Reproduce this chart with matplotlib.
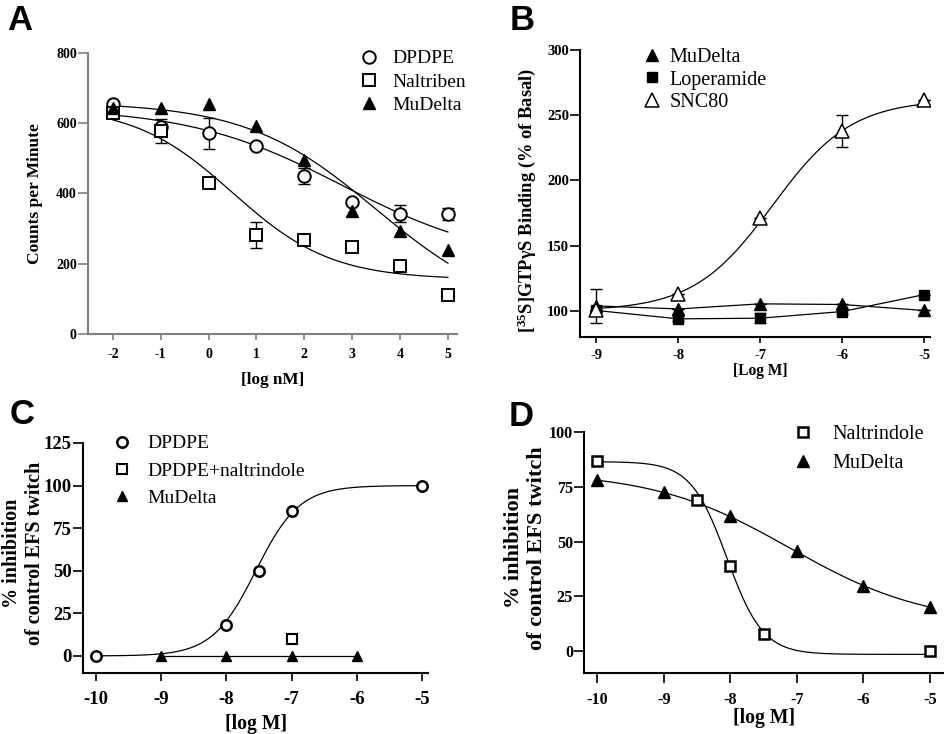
import numpy as np
import matplotlib
matplotlib.use('Agg')
import matplotlib.pyplot as plt

plt.rcParams['font.family'] = 'Liberation Serif'
plt.rcParams['font.weight'] = 'bold'
plt.rcParams['axes.labelweight'] = 'bold'
plt.rcParams['axes.unicode_minus'] = False
plt.rcParams['mathtext.fontset'] = 'custom'
plt.rcParams['mathtext.rm'] = 'Liberation Serif:bold'
plt.rcParams['mathtext.default'] = 'rm'

# ---- panel A : counts per minute vs [log nM]
a_x = [-2, -1, 0, 1, 2, 3, 4, 5]
a_dpdpe = [656, 590, 571, 536, 450, 375, 342, 342]
a_dpdpe_err = [0, 0, 43, 0, 23, 0, 24, 17]
a_naltriben = [630, 578, 431, 282, 268, 249, 194, 112]
a_naltriben_err = [0, 35, 0, 37, 0, 0, 10, 12]
a_mudelta = [642, 642, 654, 592, 495, 351, 293, 240]
# fitted curves (bottom, top, logEC50, hill)
a_fit_dpdpe = (200, 645, 2.8, -0.27)
a_fit_naltriben = (155, 650, 0.5, -0.42)
a_fit_mudelta = (50, 660, 3.5, -0.32)

# ---- panel B : [35S]GTPgS binding
b_x = [-9, -8, -7, -6, -5]
b_mudelta = [103.8, 101.5, 105.4, 104.9, 100.3]
b_mudelta_err = [13, 0, 0, 0, 0]
b_loperamide = [100.3, 93.9, 94.4, 99.5, 112.5]
b_loperamide_err = [0, 2, 4, 2, 0]
b_snc80 = [100.3, 113, 171.4, 238, 262]
b_snc80_err = [0, 0, 0, 12, 0]
b_fit_snc80 = (100, 262, -6.85, 0.9)

# ---- panel C : % inhibition, agonists
c_dpdpe_x = [-10, -8, -7.5, -7, -5]
c_dpdpe = [0, 18, 50, 85, 100]
c_naltr_x = [-7]
c_naltr = [10]
c_mudelta_x = [-9, -8, -7, -6]
c_mudelta = [0, 0, 0, 0]
c_fit_dpdpe = (0, 100, -7.55, 1.3)

# ---- panel D : % inhibition, antagonists
d_naltr_x = [-10, -8.5, -8, -7.5, -5]
d_naltr = [87, 69, 39, 8, 0]
d_mudelta_x = [-10, -9, -8, -7, -6, -5]
d_mudelta = [78, 72.5, 61.5, 45.5, 29.5, 20]
d_fit_naltr = (-1.5, 86.5, -8.05, -1.6)
d_fit_mudelta = (12, 82, -7.1, -0.42)


def hill(x, p):
    bottom, top, mid, slope = p
    return bottom + (top - bottom) / (1 + 10 ** ((mid - x) * slope))


def style(ax, color, tsize, xpad, xlen):
    for s in ['top', 'right']:
        ax.spines[s].set_visible(False)
    for s in ['left', 'bottom']:
        ax.spines[s].set_color(color)
        ax.spines[s].set_linewidth(1.5)
    ax.tick_params(axis='both', colors=color, labelcolor='black', width=1.2,
                   labelsize=tsize)
    ax.tick_params(axis='y', length=7, pad=1)
    ax.tick_params(axis='x', length=xlen, pad=xpad)


def legend(ax, fig, x, y, size, pad, spacing):
    ax.legend(loc='center left', bbox_to_anchor=(x / 945, 1 - y / 734),
              bbox_transform=fig.transFigure, frameon=False, borderpad=0,
              borderaxespad=0, handlelength=1.0, handletextpad=pad,
              labelspacing=spacing,
              prop={'family': 'Liberation Serif', 'size': size, 'weight': 'normal'})


fig = plt.figure(figsize=(9.45, 7.34), dpi=100)
axA = fig.add_axes([0.0931, 0.5450, 0.3905, 0.3828])
axB = fig.add_axes([0.6138, 0.5409, 0.3704, 0.3910])
axC = fig.add_axes([0.0878, 0.0831, 0.3651, 0.3134])
axD = fig.add_axes([0.6180, 0.0831, 0.3799, 0.3283])

lw = 0.9

# A
xx = np.linspace(-2, 5, 200)
for p in [a_fit_dpdpe, a_fit_naltriben, a_fit_mudelta]:
    axA.plot(xx, hill(xx, p), color='black', lw=lw)
axA.errorbar(a_x, a_dpdpe, yerr=a_dpdpe_err, fmt='none', ecolor='black', elinewidth=1, capsize=4.5)
axA.errorbar(a_x, a_naltriben, yerr=a_naltriben_err, fmt='none', ecolor='black', elinewidth=1, capsize=4.5)
axA.plot(a_x, a_dpdpe, 'o', ms=9, mfc='white', mec='black', mew=1.4, label='DPDPE')
axA.plot(a_x, a_naltriben, 's', ms=9, mfc='white', mec='black', mew=1.4, label='Naltriben')
axA.plot(a_x, a_mudelta, '^', ms=8.5, color='black', label='MuDelta')
axA.set_xlim(-2.52, 5.19)
axA.set_ylim(0, 800)
axA.set_xticks(a_x)
axA.set_yticks([0, 200, 400, 600, 800])
style(axA, '#808080', 10, 6, 4)
axA.set_ylabel('Counts per Minute', fontsize=12.5, ha='center', va='center')
axA.yaxis.set_label_coords(-0.1436, 0.5)
axA.set_xlabel('[log nM]', fontsize=12.3, ha='center', va='center')
axA.xaxis.set_label_coords(0.5, -0.164)
legend(axA, fig, 359, 82, 14, 0.74, 0.3)

# B
xx = np.linspace(-9, -5, 200)
axB.plot(xx, hill(xx, b_fit_snc80), color='black', lw=lw)
axB.plot(b_x, b_mudelta, color='black', lw=lw)
axB.plot(b_x, b_loperamide, color='black', lw=lw)
axB.errorbar(b_x, b_mudelta, yerr=b_mudelta_err, fmt='none', ecolor='black', elinewidth=1, capsize=4.5)
axB.errorbar(b_x, b_loperamide, yerr=b_loperamide_err, fmt='none', ecolor='black', elinewidth=1, capsize=4.5)
axB.errorbar(b_x, b_snc80, yerr=b_snc80_err, fmt='none', ecolor='black', elinewidth=1, capsize=4.5)
axB.plot(b_x, b_mudelta, '^', ms=8, color='black', label='MuDelta')
axB.plot(b_x, b_loperamide, 's', ms=6.5, color='black', label='Loperamide')
axB.plot(b_x, b_snc80, '^', ms=9.5, mfc='white', mec='black', mew=1.1, label='SNC80')
axB.set_xlim(-9.2, -4.93)
axB.set_ylim(80, 300)
axB.set_xticks(b_x)
axB.set_yticks([100, 150, 200, 250, 300])
style(axB, 'black', 10.5, 5, 4)
axB.set_ylabel('[$^{35}$S]GTPγS Binding (% of Basal)', fontsize=13.3, ha='center', va='center')
axB.yaxis.set_label_coords(-0.151, 0.477)
axB.set_xlabel('[Log M]', fontsize=11.2, ha='center', va='center')
axB.xaxis.set_label_coords(0.514, -0.118)
legend(axB, fig, 642, 80, 14.5, 0.35, 0.15)

# C
xx = np.linspace(-10, -5, 200)
axC.plot(xx, hill(xx, c_fit_dpdpe), color='black', lw=lw)
axC.plot(c_mudelta_x, c_mudelta, color='black', lw=lw)
axC.plot(c_dpdpe_x, c_dpdpe, 'o', ms=7.5, mfc='white', mec='black', mew=1.8, label='DPDPE')
axC.plot(c_naltr_x, c_naltr, 's', ms=7, mfc='white', mec='black', mew=1.5, label='DPDPE+naltrindole')
axC.plot(c_mudelta_x, c_mudelta, '^', ms=7.5, color='black', label='MuDelta')
axC.set_xlim(-10.2, -4.91)
axC.set_ylim(-10, 125)
axC.set_xticks([-10, -9, -8, -7, -6, -5])
axC.set_yticks([0, 25, 50, 75, 100, 125])
style(axC, 'black', 13.5, 7, 6)
axC.set_ylabel('% inhibition\nof control EFS twitch', fontsize=14.5, ha='center', va='center')
axC.yaxis.set_label_coords(-0.172, 0.522)
axC.set_xlabel('[log M]', fontsize=14.2, ha='center', va='center')
axC.xaxis.set_label_coords(0.501, -0.222)
legend(axC, fig, 112, 471, 14, 0.84, 0.5)

# D
xx = np.linspace(-10, -5, 200)
axD.plot(xx, hill(xx, d_fit_naltr), color='black', lw=lw)
axD.plot(xx, hill(xx, d_fit_mudelta), color='black', lw=lw)
axD.plot(d_naltr_x, d_naltr, 's', ms=7.5, mfc='white', mec='black', mew=1.8, label='Naltrindole')
axD.plot(d_mudelta_x, d_mudelta, '^', ms=8.5, color='black', label='MuDelta')
axD.set_xlim(-10.2, -4.8)
axD.set_ylim(-10, 100)
axD.set_xticks([-10, -9, -8, -7, -6, -5])
axD.set_yticks([0, 25, 50, 75, 100])
style(axD, 'black', 11.6, 7, 7)
axD.set_ylabel('% inhibition\nof control EFS twitch', fontsize=16, ha='center', va='center')
axD.yaxis.set_label_coords(-0.164, 0.519)
axD.set_xlabel('[log M]', fontsize=14.2, ha='center', va='center')
axD.xaxis.set_label_coords(0.501, -0.187)
legend(axD, fig, 793, 449, 14.5, 0.94, 0.45)

# panel letters
for lbl, x, y in [('A', 7, 20), ('B', 510, 21), ('C', 10, 415), ('D', 509, 416)]:
    fig.text(x / 945, 1 - y / 734, lbl, family='Liberation Sans', fontweight='bold',
             fontsize=25, ha='left', va='center')

fig.savefig('out.png', dpi=100)
